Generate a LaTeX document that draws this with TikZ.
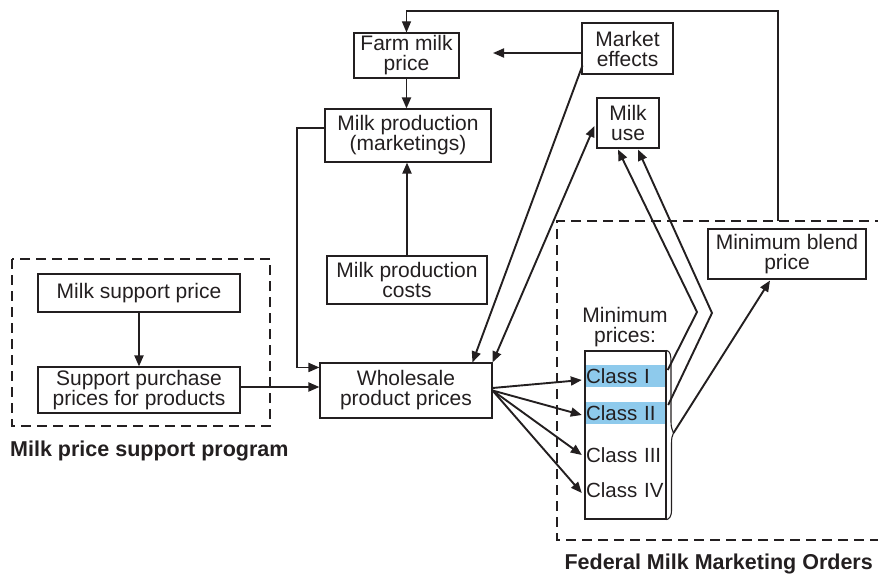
\documentclass[tikz,border=0pt]{standalone}
\usepackage{fontspec}
\setmainfont{Liberation Sans}
\usetikzlibrary{arrows.meta,calc}
\definecolor{ink}{RGB}{35,31,32}
\definecolor{classblue}{RGB}{142,202,236}
\begin{document}
\begin{tikzpicture}[x=1pt,y=-1pt,
  box/.style={draw=ink, line width=1.1pt, rectangle, inner sep=0pt, align=center, font=\fontsize{21}{20}\selectfont, text=ink},
  tip/.tip={Triangle[length=11pt,width=9pt]},
  arr/.style={draw=ink, line width=1.9pt, -tip},
  dbl/.style={draw=ink, line width=1.9pt, tip-tip},
  thinarr/.style={draw=ink, line width=1.1pt, -tip},
  dash box/.style={draw=ink, line width=2.8pt, dash pattern=on 10pt off 6pt},
  lbl/.style={font=\fontsize{21.5}{22}\selectfont\bfseries, text=ink, inner sep=0pt},
  cls/.style={draw=none, inner sep=0pt, minimum width=81pt, minimum height=22pt, text width=79pt, align=left, font=\fontsize{20.5}{20}\selectfont, text=ink}
]
\useasboundingbox (0,0) rectangle (878,575);

% dashed groups
\draw[dash box] (12,259) rectangle (270,426);
\draw[dash box] (885,221) -- (557,221) -- (557,540) -- (885,540);

% boxes
\node[box, minimum width=105pt, minimum height=45pt] (farm) at (406.5,55.5) {Farm milk\\price};
\node[box, minimum width=91pt, minimum height=51pt] (market) at (627.5,48.5) {Market\\effects};
\node[box, minimum width=62pt, minimum height=50pt] (use) at (628,123) {Milk\\use};
\node[box, minimum width=166pt, minimum height=53pt] (prod) at (408,135.5) {Milk production\\(marketings)};
\node[box, minimum width=160pt, minimum height=48pt] (costs) at (407,280) {Milk production\\costs};
\node[box, minimum width=202pt, minimum height=38pt] (sprice) at (139,293) {Milk support price};
\node[box, minimum width=202pt, minimum height=46pt] (spurch) at (139,390) {Support purchase\\prices for products};
\node[box, minimum width=172pt, minimum height=55pt] (whole) at (406,390.5) {Wholesale\\product prices};
\node[box, minimum width=158pt, minimum height=50pt] (blend) at (787,254) {Minimum blend\\price};

% class column
\node[box, draw=none] (minp) at (625,327) {Minimum\\prices:};
\node[cls, fill=classblue] (c1) at (625.5,376) {Class I};
\node[cls, fill=classblue] (c2) at (625.5,413) {Class II};
\node[cls] (c3) at (625.5,455) {Class III};
\node[cls] (c4) at (625.5,490) {Class IV};
\node[draw=ink, line width=1.1pt, minimum width=81pt, minimum height=168pt, inner sep=0pt] (col) at (625.5,435) {};

% bracket
\coordinate (btip) at (673.5,433);
\draw[ink, line width=1.1pt] (col.north east) .. controls (670,351) and (671,355) .. (671,362)
  -- (671,422) .. controls (671,428) and (672.5,430) .. (btip)
  .. controls (672,436) and (671.5,438) .. (671.5,444)
  -- (671.5,510) .. controls (671.5,517) and (669,519) .. (col.south east);

% labels
\node[lbl, anchor=base west] (mpsp) at (10,456) {Milk price support program};
\node[lbl, anchor=base east] (fmmo) at (873,569.5) {Federal Milk Marketing Orders};

% connectors
\draw[arr] (farm.south) -- (farm.south |- prod.north);
\draw[arr] (costs.north) -- (costs.north |- prod.south);
\coordinate (fb) at (778,221);
\coordinate (fbtop) at (778,11);
\draw[thinarr] (fb) -- (fbtop) -| (farm.north);
\coordinate (mkend) at (493,53);
\draw[arr] (market.west |- mkend) -- (mkend);
\coordinate (pl) at (297,128);
\draw[arr] (prod.west |- pl) -- (pl) |- ($(whole.north west)+(0,5)$);
\draw[arr] (sprice.south) -- (spurch.north);
\draw[arr] ($(spurch.east)+(0,-3)$) -- ($(whole.west)+(0,-3.5)$);
\draw[arr] ($(market.south west)+(1,-9)$) -- ($(whole.north west)+(153,0)$);
\draw[dbl] (whole.north east) -- ($(use.west)+(-2,3)$);
\coordinate (k1) at (697,312);
\coordinate (k2) at (712,313);
\draw[arr] ($(c1.east)+(1.5,-6)$) -- (k1) -- ($(use.south)+(-10,1)$);
\draw[arr] ($(c2.east)+(2,-8)$) -- (k2) -- ($(use.south)+(10,1)$);
\draw[arr] (btip) -- ($(blend.south)+(-17,1)$);
\coordinate (ws) at ($(whole.east)+(0,-2.5)$);
\draw[arr] (ws) -- ($(c1.west)+(-3,4)$);
\draw[arr] (whole.east) -- ($(c2.west)+(-3,2)$);
\draw[arr] (whole.east) -- ($(c3.west)+(-3,0)$);
\draw[arr] (whole.east) -- ($(c4.west)+(-3,3)$);
\end{tikzpicture}
\end{document}
